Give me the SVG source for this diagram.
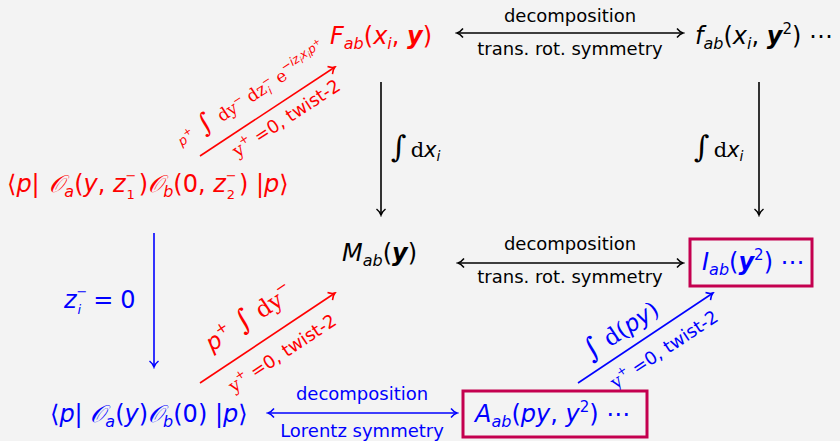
<svg xmlns="http://www.w3.org/2000/svg" width="840" height="441" viewBox="0 0 840 441">
<defs>
<style>
text{font-family:"DejaVu Sans",sans-serif}
.mi{font-style:italic;font-size:24px}
.up{font-style:normal}
.b{font-weight:bold}
.sb{font-size:16px}
.sp{font-size:15px}
.ss{font-size:13px;font-style:normal}
.ssi{font-size:13px;font-style:italic}
.rm{font-family:"DejaVu Serif",serif;font-style:normal}
.lab{font-size:18px;text-anchor:middle}
.k{fill:#000}.r{fill:#ff0000}.bl{fill:#0000ff}
.ln{fill:none;stroke-width:1.6}
.lk{stroke:#000}.lr{stroke:#ff0000}.lb{stroke:#0000ff}
.box{fill:none;stroke:#c4004f;stroke-width:3}
</style>
<marker id="ak" viewBox="-8 -6 10 12" refX="0" refY="0" markerWidth="10" markerHeight="12" markerUnits="userSpaceOnUse" orient="auto-start-reverse"><path d="M-6,-4.5 C-4,-2 -2,-0.6 0,0 C-2,0.6 -4,2 -6,4.5" fill="none" stroke="#000" stroke-width="1.5"/></marker>
<marker id="ar" viewBox="-8 -6 10 12" refX="0" refY="0" markerWidth="10" markerHeight="12" markerUnits="userSpaceOnUse" orient="auto-start-reverse"><path d="M-6,-4.5 C-4,-2 -2,-0.6 0,0 C-2,0.6 -4,2 -6,4.5" fill="none" stroke="#ff0000" stroke-width="1.5"/></marker>
<marker id="ab" viewBox="-8 -6 10 12" refX="0" refY="0" markerWidth="10" markerHeight="12" markerUnits="userSpaceOnUse" orient="auto-start-reverse"><path d="M-6,-4.5 C-4,-2 -2,-0.6 0,0 C-2,0.6 -4,2 -6,4.5" fill="none" stroke="#0000ff" stroke-width="1.5"/></marker>
</defs>
<rect x="0" y="0" width="840" height="441" fill="#f3f3f3"/>

<g id="connectors">
  <!-- horizontal double arrows -->
  <line class="ln lk" x1="457" y1="33" x2="683" y2="33" marker-start="url(#ak)" marker-end="url(#ak)"/>
  <text class="lab k" x="570" y="22">decomposition</text>
  <text class="lab k" x="570" y="55">trans.  rot.  symmetry</text>

  <line class="ln lk" x1="458" y1="263" x2="683" y2="263" marker-start="url(#ak)" marker-end="url(#ak)"/>
  <text class="lab k" x="570" y="250">decomposition</text>
  <text class="lab k" x="570" y="283">trans.  rot.  symmetry</text>

  <line class="ln lb" x1="268" y1="413" x2="457" y2="413" marker-start="url(#ab)" marker-end="url(#ab)"/>
  <text class="lab bl" x="362" y="400">decomposition</text>
  <text class="lab bl" x="362" y="437">Lorentz symmetry</text>

  <!-- vertical arrows -->
  <line class="ln lk" x1="381" y1="82" x2="381" y2="215" marker-end="url(#ak)"/>
  <text class="k" x="391" y="157" font-size="21"><tspan class="rm" font-size="30">∫</tspan><tspan class="rm" dx="4">d</tspan><tspan font-style="italic">x</tspan><tspan font-style="italic" font-size="14" dy="4">i</tspan></text>

  <line class="ln lk" x1="759" y1="82" x2="759" y2="215" marker-end="url(#ak)"/>
  <text class="k" x="694" y="157" font-size="21"><tspan class="rm" font-size="30">∫</tspan><tspan class="rm" dx="4">d</tspan><tspan font-style="italic">x</tspan><tspan font-style="italic" font-size="14" dy="4">i</tspan></text>

  <line class="ln lb" x1="154" y1="233" x2="154" y2="367" marker-end="url(#ab)"/>
  <text class="bl" x="64" y="308" font-size="24"><tspan font-style="italic">z</tspan><tspan class="ss" dy="-12">−</tspan><tspan class="ssi" dx="-10" dy="18">i</tspan><tspan dx="12" dy="-6">=</tspan><tspan dx="7">0</tspan></text>

  <!-- diagonal arrows -->
  <line class="ln lr" x1="200" y1="156" x2="335" y2="67" marker-end="url(#ar)"/>
  <g transform="translate(267.5,111.5) rotate(-33.4)">
    <text class="r" x="-4" y="-16" text-anchor="middle" font-size="17"><tspan font-style="italic" font-size="13" dy="-2">p</tspan><tspan font-size="10" dy="-6">+</tspan><tspan class="rm" font-size="26" dy="8"> ∫ </tspan><tspan class="rm">dy</tspan><tspan font-size="11" dy="-7">−</tspan><tspan class="rm" dy="7"> dz</tspan><tspan font-size="11" dy="-7">−</tspan><tspan font-size="11" font-style="italic" dx="-8" dy="11">i</tspan><tspan class="rm" dx="5" dy="-4"> e</tspan><tspan font-size="12" font-style="italic" dy="-8">−iz</tspan><tspan font-size="9" font-style="italic" dy="3">i</tspan><tspan font-size="12" font-style="italic" dy="-3">x</tspan><tspan font-size="9" font-style="italic" dy="3">i</tspan><tspan font-size="12" font-style="italic" dy="-3">p</tspan><tspan font-size="9" dy="-4">+</tspan></text>
    <text class="r" x="12" y="22" text-anchor="middle" font-size="18"><tspan class="rm">y</tspan><tspan font-size="12" dy="-8">+</tspan><tspan dy="8"> =0, twist-2</tspan></text>
  </g>

  <line class="ln lr" x1="200" y1="383" x2="335" y2="293" marker-end="url(#ar)"/>
  <g transform="translate(267.5,338) rotate(-33.7)">
    <text class="r" x="-4" y="-19" text-anchor="middle" font-size="23"><tspan font-style="italic">p</tspan><tspan font-size="15" dy="-10">+</tspan><tspan class="rm" font-size="28" dy="10"> ∫ </tspan><tspan class="rm">dy</tspan><tspan font-size="15" dy="-11">−</tspan></text>
    <text class="r" x="4" y="27" text-anchor="middle" font-size="18"><tspan class="rm">y</tspan><tspan font-size="12" dy="-8">+</tspan><tspan dy="8"> =0, twist-2</tspan></text>
  </g>

  <line class="ln lb" x1="578" y1="383" x2="713" y2="293" marker-end="url(#ab)"/>
  <g transform="translate(645.5,338) rotate(-33.7)">
    <text class="bl" x="-16" y="-12" text-anchor="middle" font-size="23"><tspan class="rm" font-size="28">∫ </tspan><tspan class="rm">d(</tspan><tspan font-style="italic">py</tspan><tspan class="rm">)</tspan></text>
    <text class="bl" x="9" y="26" text-anchor="middle" font-size="18"><tspan class="rm">y</tspan><tspan font-size="12" dy="-8">+</tspan><tspan dy="8"> =0, twist-2</tspan></text>
  </g>
</g>

<g id="node-F">
  <text class="mi r" x="330" y="44">F<tspan class="sb" dy="5">ab</tspan><tspan class="up" dy="-5">(</tspan>x<tspan class="sb" dy="5">i</tspan><tspan class="up" dy="-5">, </tspan><tspan class="b">y</tspan><tspan class="up">)</tspan></text>
</g>
<g id="node-f">
  <text class="mi k" x="695" y="44">f<tspan class="sb" dy="5">ab</tspan><tspan class="up" dy="-5">(</tspan>x<tspan class="sb" dy="5">i</tspan><tspan class="up" dy="-5">, </tspan><tspan class="b">y</tspan><tspan class="sp up" dy="-10">2</tspan><tspan class="up" dy="10">) ⋯</tspan></text>
</g>
<g id="node-corr-red">
  <text class="mi r" x="7" y="192"><tspan class="up">⟨</tspan>p<tspan class="up">| </tspan><tspan dx="2">𝒪</tspan><tspan class="sb" dy="5">a</tspan><tspan class="up" dy="-5">(</tspan>y<tspan class="up">, </tspan>z<tspan class="ss" dy="-12">−</tspan><tspan class="ss" dx="-10" dy="19">1</tspan><tspan class="up" dx="4" dy="-7">)</tspan>𝒪<tspan class="sb" dy="5">b</tspan><tspan class="up" dy="-5">(0, </tspan>z<tspan class="ss" dy="-12">−</tspan><tspan class="ss" dx="-10" dy="19">2</tspan><tspan class="up" dx="4" dy="-7">) |</tspan>p<tspan class="up">⟩</tspan></text>
</g>
<g id="node-M">
  <text class="mi k" x="342" y="261">M<tspan class="sb" dy="5">ab</tspan><tspan class="up" dy="-5">(</tspan><tspan class="b">y</tspan><tspan class="up">)</tspan></text>
</g>
<g id="node-I">
  <rect class="box" x="690" y="239" width="122" height="47"/>
  <text class="mi bl" x="702" y="270">I<tspan class="sb" dy="5">ab</tspan><tspan class="up" dy="-5">(</tspan><tspan class="b">y</tspan><tspan class="sp up" dy="-10">2</tspan><tspan class="up" dy="10">) ⋯</tspan></text>
</g>
<g id="node-corr-blue">
  <text class="mi bl" x="50" y="422"><tspan class="up">⟨</tspan>p<tspan class="up">| </tspan>𝒪<tspan class="sb" dy="5">a</tspan><tspan class="up" dy="-5">(</tspan>y<tspan class="up">)</tspan>𝒪<tspan class="sb" dy="5">b</tspan><tspan class="up" dy="-5">(0) |</tspan>p<tspan class="up">⟩</tspan></text>
</g>
<g id="node-A">
  <rect class="box" x="463" y="391" width="184" height="46"/>
  <text class="mi bl" x="475" y="422">A<tspan class="sb" dy="5">ab</tspan><tspan class="up" dy="-5">(</tspan>py<tspan class="up">, </tspan>y<tspan class="sp up" dy="-10">2</tspan><tspan class="up" dy="10">) ⋯</tspan></text>
</g>
</svg>
